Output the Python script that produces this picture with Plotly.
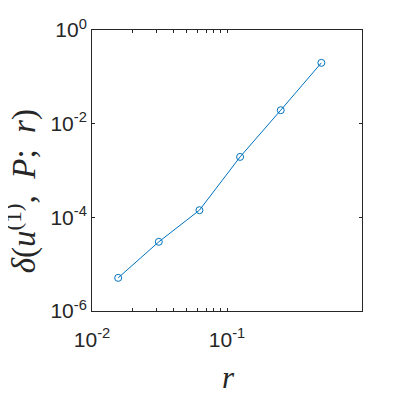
import plotly.graph_objects as go

r_vals = [1/64, 1/32, 1/16, 1/8, 1/4, 1/2]
delta_vals = [5.1e-6, 3.0e-5, 1.42e-4, 1.95e-3, 1.94e-2, 0.199]

x_tickvals = [0.01, 0.02, 0.03, 0.04, 0.05, 0.06, 0.07, 0.08, 0.09, 0.1]
x_ticktext = ["10<sup>-2</sup>", "", "", "", "", "", "", "", "", "10<sup>-1</sup>"]
y_tickvals = [1e-6, 1e-4, 1e-2, 1]
y_ticktext = ["10<sup>-6</sup>", "10<sup>-4</sup>", "10<sup>-2</sup>", "10<sup>0</sup>"]

blue = "#0072BD"
axc = "#262626"

fig = go.Figure()
fig.add_trace(go.Scatter(
    x=r_vals, y=delta_vals, mode="lines+markers",
    line=dict(color=blue, width=1),
    marker=dict(symbol="circle-open", size=7, color=blue, line=dict(width=1, color=blue)),
    showlegend=False,
))

tickfont = dict(family="Arial, Liberation Sans, sans-serif", size=21, color=axc)
fig.update_xaxes(type="log", range=[-2, 0], tickvals=x_tickvals, ticktext=x_ticktext,
                 ticks="inside", ticklen=3, tickcolor=axc, tickwidth=1,
                 showline=True, linecolor=axc, linewidth=1, mirror="allticks",
                 showgrid=False, zeroline=False, tickfont=tickfont, automargin=False,
                 ticklabelstandoff=10)
fig.update_yaxes(type="log", range=[-6, 0], tickvals=y_tickvals, ticktext=y_ticktext,
                 ticks="inside", ticklen=3, tickcolor=axc, tickwidth=1,
                 showline=True, linecolor=axc, linewidth=1, mirror="allticks",
                 showgrid=False, zeroline=False, tickfont=tickfont, automargin=False)

serif = "Liberation Serif, Times New Roman, serif"
fig.add_annotation(text="<i>δ</i>(<i>u</i><sup>(1)</sup>,\u2002<i>P</i>;\u2002<i>r</i>)",
                   xref="paper", yref="paper", x=-0.262, y=0.427, textangle=-90,
                   showarrow=False, xanchor="center", yanchor="middle",
                   font=dict(family=serif, size=33, color=axc))
fig.add_annotation(text="<i>r</i>",
                   xref="paper", yref="paper", x=0.504, y=-0.236,
                   showarrow=False, xanchor="center", yanchor="middle",
                   font=dict(family=serif, size=31, color=axc))

fig.update_layout(width=400, height=400, margin=dict(l=84, r=46, t=22, b=97, autoexpand=False),
                  paper_bgcolor="white", plot_bgcolor="white")
fig.write_html("out.html")
